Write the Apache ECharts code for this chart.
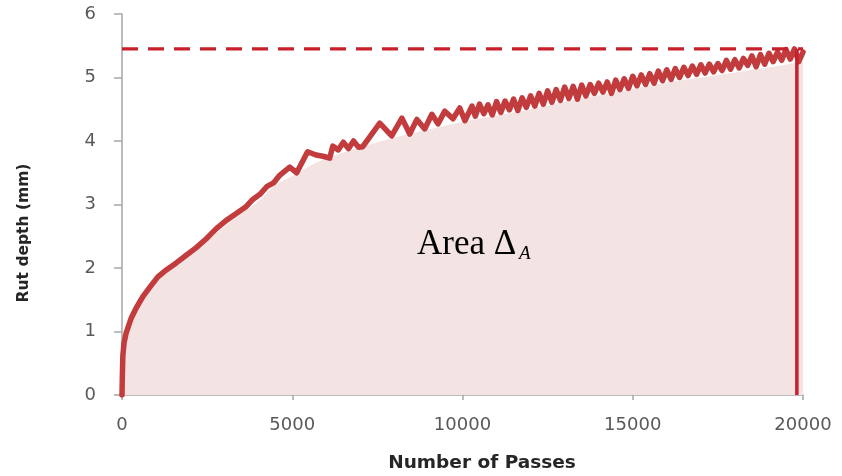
<!DOCTYPE html>
<html>
<head>
<meta charset="utf-8">
<script src="https://cdn.jsdelivr.net/npm/echarts@6/dist/echarts.min.js"></script>
<style>html,body{margin:0;padding:0;background:#fff}#c{width:842px;height:476px}</style>
</head>
<body>
<div id="c"></div>
<script>
// Measured rut depth curve (passes -> depth in mm)
const passes = [0,10,25,60,123,270,417,612,808,1053,1300,1593,1887,2181,2475,2770,3063,3357,3651,3840,4050,4250,4450,
  4630,4925,5130,5450,5700,5900,6100,6190,6350,6500,6650,6800,6950,7070,7570,7920,8220,8450,8660,8890,9100,9280,9480,9720,9920,10070,10280,
  10375,10500,10625,10750,10875,11000,11125,11250,11375,11500,11625,11750,11875,12000,12125,12250,12375,12500,12625,12750,12875,
  13000,13125,13250,13375,13500,13625,13750,13875,14000,14125,14250,14375,14500,14625,14750,14875,
  15000,15125,15250,15375,15500,15625,15750,15875,16000,16125,16250,16375,16500,16625,16750,16875,
  17000,17125,17250,17375,17500,17625,17750,17875,18000,18125,18250,18375,18500,18625,18750,18875,
  19000,19125,19250,19375,19500,19625,19750,19875,20000];
const depth = [0,0.3,0.62,0.82,0.98,1.21,1.37,1.55,1.69,1.86,1.97,2.08,2.20,2.32,2.46,2.62,2.75,2.86,2.97,3.08,3.16,3.28,3.34,
  3.46,3.59,3.50,3.83,3.78,3.76,3.73,3.92,3.86,3.98,3.88,4.00,3.90,3.91,4.28,4.08,4.36,4.11,4.34,4.19,4.42,4.27,4.47,4.35,4.52,4.32,4.55,
  4.39,4.58,4.43,4.57,4.41,4.62,4.45,4.63,4.49,4.66,4.48,4.68,4.53,4.71,4.55,4.75,4.58,4.79,4.61,4.81,4.64,
  4.85,4.67,4.86,4.66,4.88,4.71,4.89,4.75,4.91,4.77,4.93,4.75,4.96,4.81,4.98,4.83,
  5.02,4.87,5.04,4.89,5.06,4.91,5.10,4.95,5.12,4.97,5.14,5.00,5.16,5.03,5.18,5.05,
  5.20,5.07,5.21,5.09,5.22,5.11,5.27,5.13,5.28,5.15,5.30,5.19,5.34,5.17,5.36,5.21,
  5.38,5.25,5.40,5.27,5.44,5.29,5.45,5.25,5.40];
// Shaded area (Area Δ_A) envelope
const fillPasses = [0,25,120,270,600,1000,1500,2000,2500,3000,3500,4000,4500,5000,5500,6000,7000,8000,9000,10000,11000,12000,13000,14000,15000,16000,17000,18000,19000,20000];
const fillDepth  = [0,0.6,0.95,1.18,1.52,1.8,2.03,2.22,2.42,2.65,2.85,3.05,3.3,3.45,3.6,3.72,3.9,4.05,4.18,4.3,4.4,4.5,4.62,4.72,4.82,4.92,5.0,5.08,5.16,5.25];
const refDepth = 5.45;   // max rut depth (dashed line)
const endPass = 19820;   // end of test (vertical line)
const xTicks = [0, 20000, 5000];
const yTicks = [0, 6, 1];
const xTitle = 'Number of Passes';
const yTitle = 'Rut depth (mm)';

const red = '#c23b3d';
const dark = '#c8202a';
const chart = echarts.init(document.getElementById('c'), null, {renderer:'canvas'});
chart.setOption({
  animation:false,
  grid:{left:122, right:39, top:14, bottom:81},
  xAxis:{type:'value', min:xTicks[0], max:xTicks[1], interval:xTicks[2],
    axisLine:{lineStyle:{color:'#a6a6a6', width:1.5}},
    axisTick:{show:true, length:5, lineStyle:{color:'#a6a6a6', width:1.5}},
    axisLabel:{color:'#595959', fontSize:18, fontFamily:'DejaVu Sans', margin:21, formatter:v=>String(v)},
    splitLine:{show:false}},
  yAxis:{type:'value', min:yTicks[0], max:yTicks[1], interval:yTicks[2],
    axisLine:{show:true, lineStyle:{color:'#a6a6a6', width:1.5}},
    axisTick:{show:true, length:8, lineStyle:{color:'#a6a6a6', width:1.5}},
    axisLabel:{color:'#595959', fontSize:18, fontFamily:'DejaVu Sans', margin:26},
    splitLine:{show:false}},
  series:[
    {type:'line', data:fillPasses.map((p,i)=>[p,fillDepth[i]]), smooth:true, showSymbol:false,
      lineStyle:{width:0}, areaStyle:{color:'#f3e3e3', opacity:1}, z:1, silent:true},
    {type:'line', data:passes.map((p,i)=>[p,depth[i]]), showSymbol:false,
      lineStyle:{color:red, width:5.5, join:'round', cap:'round'}, z:3, silent:true},
    {type:'line', data:[[xTicks[0],refDepth],[xTicks[1],refDepth]], showSymbol:false,
      lineStyle:{color:dark, width:3.3, type:[16,10]}, z:4, silent:true},
    {type:'line', data:[[endPass,0],[endPass,refDepth]], showSymbol:false,
      lineStyle:{color:dark, width:3.5}, z:4, silent:true}
  ],
  graphic:[
    {type:'text', z:100, x:482, y:463, style:{text:xTitle, fontSize:18.5, fontWeight:'bold', fontFamily:'DejaVu Sans', fill:'#262626', align:'center', verticalAlign:'middle'}},
    {type:'text', z:100, x:24, y:233, rotation:Math.PI/2, style:{text:yTitle, fontSize:15.5, fontWeight:'bold', fontFamily:'DejaVu Sans', fill:'#262626', align:'center', verticalAlign:'middle'}},
    {type:'text', z:100, x:417, y:245, style:{text:'Area Δ', fontSize:35, fontFamily:'Liberation Serif', fill:'#000', align:'left', verticalAlign:'middle'}},
    {type:'text', z:100, x:519, y:254, style:{text:'A', fontSize:19, fontStyle:'italic', fontFamily:'Liberation Serif', fill:'#000', align:'left', verticalAlign:'middle'}}
  ]
});
</script>
</body>
</html>
